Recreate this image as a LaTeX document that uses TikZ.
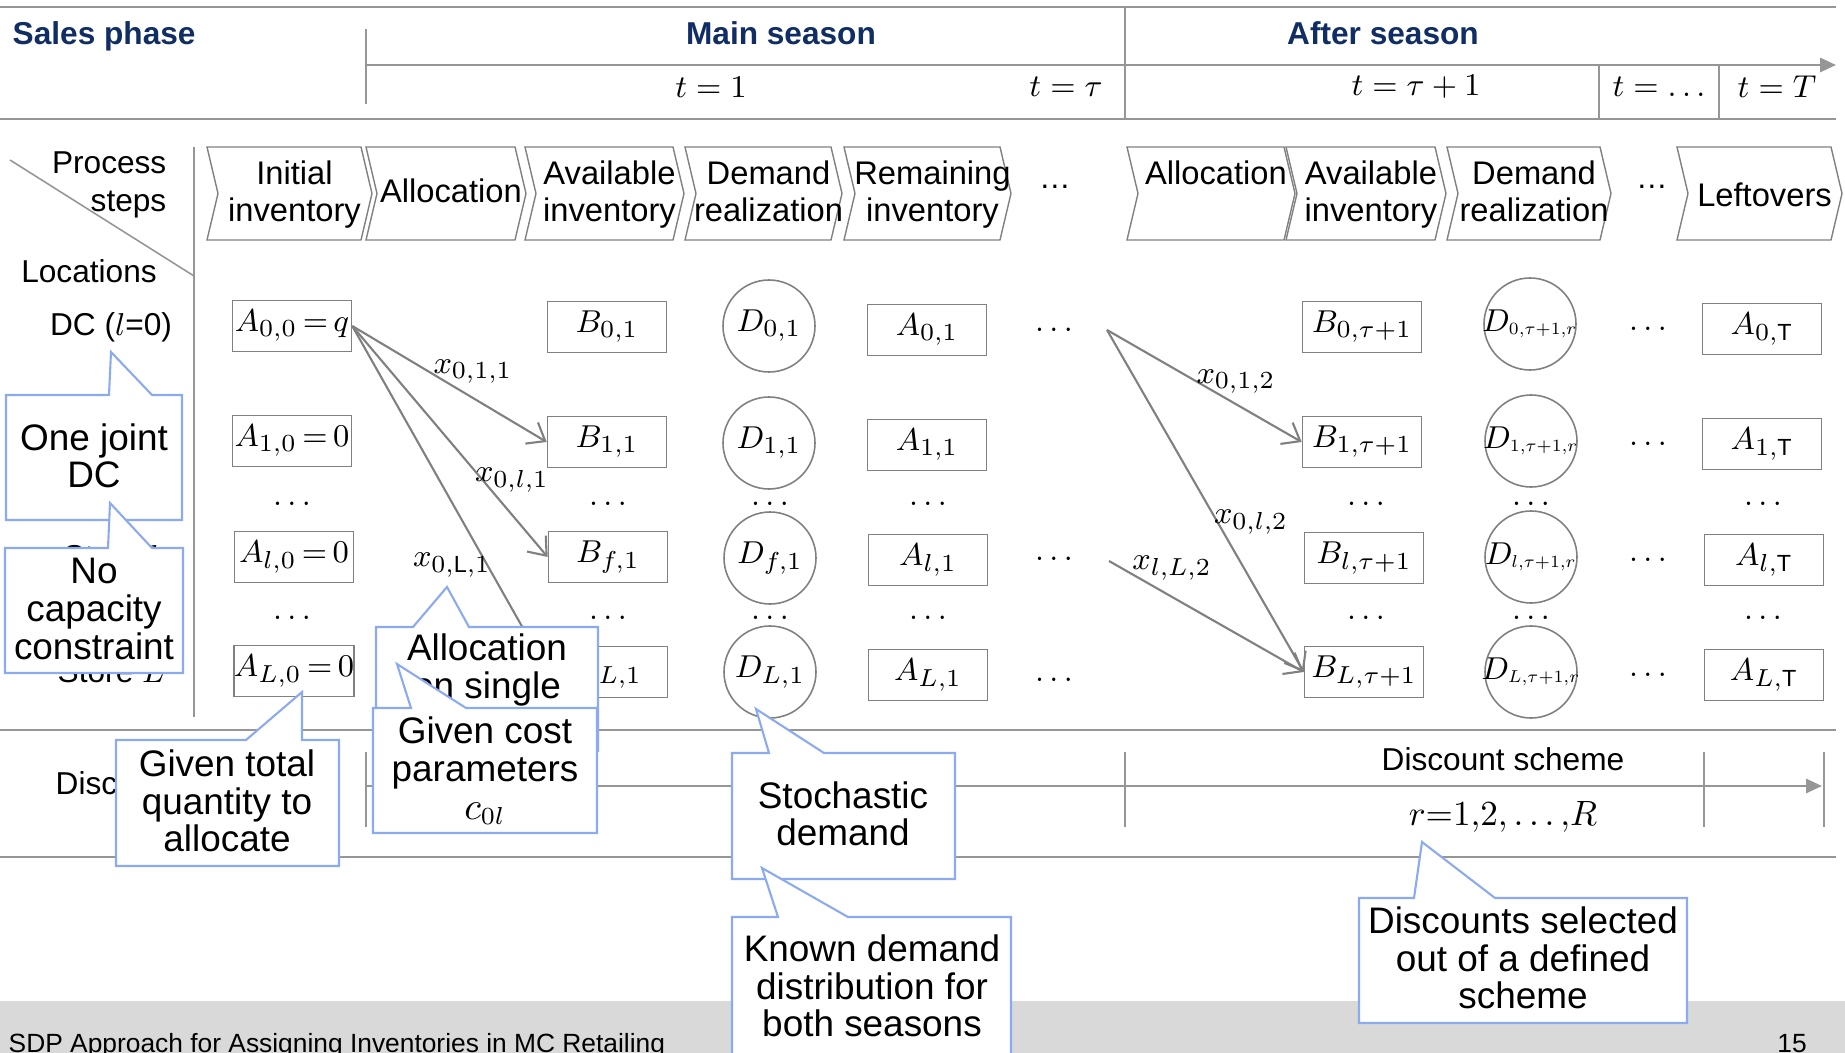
\documentclass[tikz,border=0pt]{standalone}
\usepackage{fontspec}
\setmainfont{Liberation Sans}
\usetikzlibrary{arrows.meta,positioning}
\definecolor{headblue}{RGB}{16,46,100}
\definecolor{linegray}{RGB}{150,150,150}
\definecolor{boxgray}{RGB}{128,128,128}
\definecolor{noteblue}{RGB}{140,170,240}
\definecolor{footgray}{RGB}{217,217,217}

\begin{document}
\begin{tikzpicture}[
          x=0.1mm, y=-0.1mm,
          every node/.style={font=\fontsize{9}{10.8}\selectfont},
          head/.style={inner sep=0pt, font=\fontsize{9}{11}\selectfont\bfseries, text=headblue},
          rule/.style={draw=linegray, line width=0.7pt},
          tick/.style={draw=linegray, line width=0.45pt},
          axis/.style={draw=linegray, line width=0.7pt, -{Triangle[length=4.5pt,width=4pt]}},
          chev/.style={draw=boxgray, line width=0.4pt},
          chevtext/.style={align=center, inner sep=0pt, font=\fontsize{9.3}{10.5}\selectfont},
          box/.style={rectangle, draw=boxgray, line width=0.45pt, minimum width=11.9mm, minimum height=5.1mm, inner sep=0pt, font=\fontsize{9.5}{11}\selectfont},
          demand/.style={circle, draw=boxgray, line width=0.45pt, minimum size=9.2mm, inner sep=0pt, font=\fontsize{9.5}{11}\selectfont},
          gap/.style={inner sep=0pt, font=\fontsize{9.3}{11}\selectfont},
          flow/.style={draw=boxgray, line width=0.6pt, -{Straight Barb[length=4.5pt,width=7pt]}},
          flowlabel/.style={inner sep=0pt, font=\fontsize{9.5}{11}\selectfont},
          note/.style={draw=noteblue, fill=white, line width=0.6pt},
          notetext/.style={align=center, inner sep=0pt, font=\fontsize{10.5}{10.7}\selectfont}
        ]
          \useasboundingbox (0,0) rectangle (1845,1053);

          % Footer
          \fill[footgray] (0,1001) rectangle (1845,1060);
          \node[anchor=base west, inner sep=0pt, font=\fontsize{7.5}{9}\selectfont] (footer) at (8,1052) {SDP Approach for Assigning Inventories in MC Retailing};
          \node[anchor=base, inner sep=0pt, font=\fontsize{7.5}{9}\selectfont] (pageno) at (1792,1052) {15};

          % Time header
          \draw[rule] (0,7) -- (1836,7);
          \draw[rule] (0,119) -- (1836,119);
          \draw[tick] (366,29) -- (366,104);
          \draw[axis] (366,65) -- (1836,65);
          \draw[tick] (1125,7) -- (1125,119);
          \draw[tick] (1599,65) -- (1599,119);
          \draw[tick] (1719,65) -- (1719,119);
          \node[head, anchor=west] (salesphase) at (12,36) {Sales phase};
          \node[head] (mainseason) at (781,33) {Main season};
          \node[head] (afterseason) at (1383,33) {After season};
          \node (t1) at (711,87) {$t=1$};
          \node (ttau) at (1066,87) {$t=\tau$};
          \node (ttau1) at (1416,87) {$t=\tau+1$};
          \node (tdots) at (1659,87) {$t=\ldots$};
          \node (tT) at (1777,87) {$t=T$};

          % Row and column heads
          \draw[tick] (10,160) -- (194,276);
          \draw[tick] (194,147) -- (194,717);
          \node[anchor=east, align=right, inner sep=0pt] (process) at (167,185) {Process\\steps};
          \node (locations) at (89,271) {Locations};
          \node (dclabel) at (111,327) {DC ($l$=0)};
          \node (storel) at (111,557) {Store $l$};
          \node (storeL) at (111,672) {Store $L$};
          \node[anchor=west, inner sep=0pt] (disclabel) at (55,783) {Discount};

          % Process steps
          \foreach \xl/\xr/\ty/\nm/\txt in {207/372/195/init/{Initial\\inventory}, 366/526/191/alloc/Allocation,
              525/684/195/avail/{Available\\inventory}, 685/842/191/dem/{Demand\\realization},
              844/1011/195/rem/{Remaining\\inventory}, 1127/1295/173/allocr/Allocation,
              1286/1446/195/availr/{Available\\inventory}, 1447/1611/191/demr/{Demand\\realization},
              1677/1842/195/leftover/Leftovers}
          {
            \draw[chev] (\xl,147) -- (\xr-11,147) -- (\xr,193.5) -- (\xr-11,240) -- (\xl,240) -- (\xl+11,193.5) -- cycle;
            \node[chevtext] (\nm) at ({(\xl+\xr)/2+5},\ty) {\txt};
          }
          \node (stepgap1) at (1055,187) {\dots};
          \node (stepgap2) at (1652,187) {\dots};

          % Main season, t = 1
          \node[box] (a00) at (292,326) {$A_{0,0}\,{=}\,q$};
          \node[box] (a10) at (292,441) {$A_{1,0}\,{=}\,0$};
          \node[box] (al0) at (294,557) {$A_{l,0}\,{=}\,0$};
          \node[box] (aL0) at (294,671) {$A_{L,0}\,{=}\,0$};
          \node[box] (b01) at (607,327) {$B_{0,1}$};
          \node[box] (b11) at (607,442) {$B_{1,1}$};
          \node[box] (bl1) at (608,557) {$B_{f,1}$};
          \node[box] (bL1) at (608,672) {$B_{L,1}$};
          \node[demand] (d01) at (769,326) {$D_{0,1}$};
          \node[demand] (d11) at (769,443) {$D_{1,1}$};
          \node[demand] (dl1) at (770,558) {$D_{f,1}$};
          \node[demand] (dL1) at (770,672) {$D_{L,1}$};
          \node[box] (a01) at (927,330) {$A_{0,1}$};
          \node[box] (a11) at (927,445) {$A_{1,1}$};
          \node[box] (al1) at (928,560) {$A_{l,1}$};
          \node[box] (aL1) at (928,675) {$A_{L,1}$};

          % After season
          \node[box] (b0r) at (1362,327) {$B_{0,\tau+1}$};
          \node[box] (b1r) at (1362,442) {$B_{1,\tau+1}$};
          \node[box] (blr) at (1364,558) {$B_{l,\tau+1}$};
          \node[box] (bLr) at (1364,672) {$B_{L,\tau+1}$};
          \node[demand] (d0r) at (1530,324) {\makebox[0pt]{$D_{\scalebox{0.7}{$\scriptstyle 0,\tau+1,r$}}$}};
          \node[demand] (d1r) at (1531,441) {\makebox[0pt]{$D_{\scalebox{0.7}{$\scriptstyle 1,\tau+1,r$}}$}};
          \node[demand] (dlr) at (1531,557) {\makebox[0pt]{$D_{\scalebox{0.7}{$\scriptstyle l,\tau+1,r$}}$}};
          \node[demand] (dLr) at (1531,672) {\makebox[0pt]{$D_{\scalebox{0.7}{$\scriptstyle L,\tau+1,r$}}$}};
          \node[box] (a0T) at (1762,329) {$A_{0,\mathrm{T}}$};
          \node[box] (a1T) at (1762,444) {$A_{1,\mathrm{T}}$};
          \node[box] (alT) at (1764,560) {$A_{l,\mathrm{T}}$};
          \node[box] (aLT) at (1764,675) {$A_{L,\mathrm{T}}$};

          % Omitted rows and periods
          \foreach \x [count=\i] in {292,608,770,928,1366,1531,1763} {
            \node[gap] (rowgap\i) at (\x,504) {$\dots$};
            \node[gap] (rowgapb\i) at (\x,618) {$\dots$};
          }
          \foreach \y [count=\i] in {330,559,680} \node[gap] (midgap\i) at (1054,\y) {$\dots$};
          \foreach \y [count=\i] in {329,444,560,675} \node[gap] (endgap\i) at (1648,\y) {$\dots$};

          % Allocation flows
          \coordinate (src2) at (1107,330);
          \coordinate (src3) at (1109,561);
          \draw[flow] (a00.east) -- (b11.west);
          \draw[flow] (a00.east) -- (bl1.west);
          \draw[flow] (a00.east) -- (bL1.west);
          \draw[flow] (src2) -- (b1r.west);
          \draw[flow] (src2) -- (bLr.west);
          \draw[flow] (src3) -- (bLr.west);
          \node[flowlabel] (x011) at (473,372) {$x_{0,1,1}$};
          \node[flowlabel] (x0l1) at (512,480) {$x_{0,l,1}$};
          \node[flowlabel] (x0L1) at (452,565) {$x_{0,\mathrm{L},1}$};
          \node[flowlabel] (x012) at (1236,382) {$x_{0,1,2}$};
          \node[flowlabel] (x0l2) at (1251,522) {$x_{0,l,2}$};
          \node[flowlabel] (xlL2) at (1172,568) {$x_{l,L,2}$};

          % Discount row
          \draw[tick] (366,752) -- (366,827);
          \draw[axis] (366,786) -- (1822,786);
          \draw[tick] (1125,752) -- (1125,827);
          \draw[tick] (1704,752) -- (1704,827);
          \draw[tick] (1824,752) -- (1824,827);
          \draw[rule] (0,730) -- (1836,730);
          \draw[rule] (0,857) -- (1836,857);
          \node (discscheme) at (1503,759) {Discount scheme};
          \node[font=\fontsize{10}{11}\selectfont] (rrange) at (1503,817) {$r{=}1{,}2{,}\ldots{,}R$};

          % Callouts
          \draw[note] (6,395) -- (109,395) -- (111,352) -- (152,395) -- (182,395) -- (182,520) -- (6,520) -- cycle;
          \node[notetext] (jointdc) at (94,456) {One joint\\DC};
          \draw[note] (5,548) -- (108,548) -- (110,503) -- (152,548) -- (183,548) -- (183,673) -- (5,673) -- cycle;
          \node[notetext] (nocap) at (94,609) {No\\capacity\\constraint};
          \draw[note] (116,740) -- (246,740) -- (302,692) -- (302,740) -- (339,740) -- (339,866) -- (116,866) -- cycle;
          \node[notetext] (givenq) at (227,801) {Given total\\quantity to\\allocate};
          \draw[note] (376,627) -- (413,627) -- (447,587) -- (469,627) -- (598,627) -- (598,751) -- (376,751) -- cycle;
          \node[notetext] (single) at (487,670) {Allocation\\on single};
          \draw[note] (373,708) -- (411,708) -- (397,664) -- (466,708) -- (597,708) -- (597,833) -- (373,833) -- cycle;
          \node[notetext] (givenc) at (485,771) {Given cost\\parameters\\$c_{0l}$};
          \draw[note] (732,753) -- (769,753) -- (756,709) -- (824,753) -- (955,753) -- (955,879) -- (732,879) -- cycle;
          \node[notetext] (stoch) at (843,814) {Stochastic\\demand};
          \draw[note] (732,917) -- (778,917) -- (762,868) -- (848,917) -- (1011,917) -- (1011,1070) -- (732,1070) -- cycle;
          \node[notetext] (known) at (872,986) {Known demand\\distribution for\\both seasons};
          \draw[note] (1359,898) -- (1414,898) -- (1422,842) -- (1495,898) -- (1687,898) -- (1687,1023) -- (1359,1023) -- cycle;
          \node[notetext] (selected) at (1523,958) {Discounts selected\\out of a defined\\scheme};

        \end{tikzpicture}
\end{document}
